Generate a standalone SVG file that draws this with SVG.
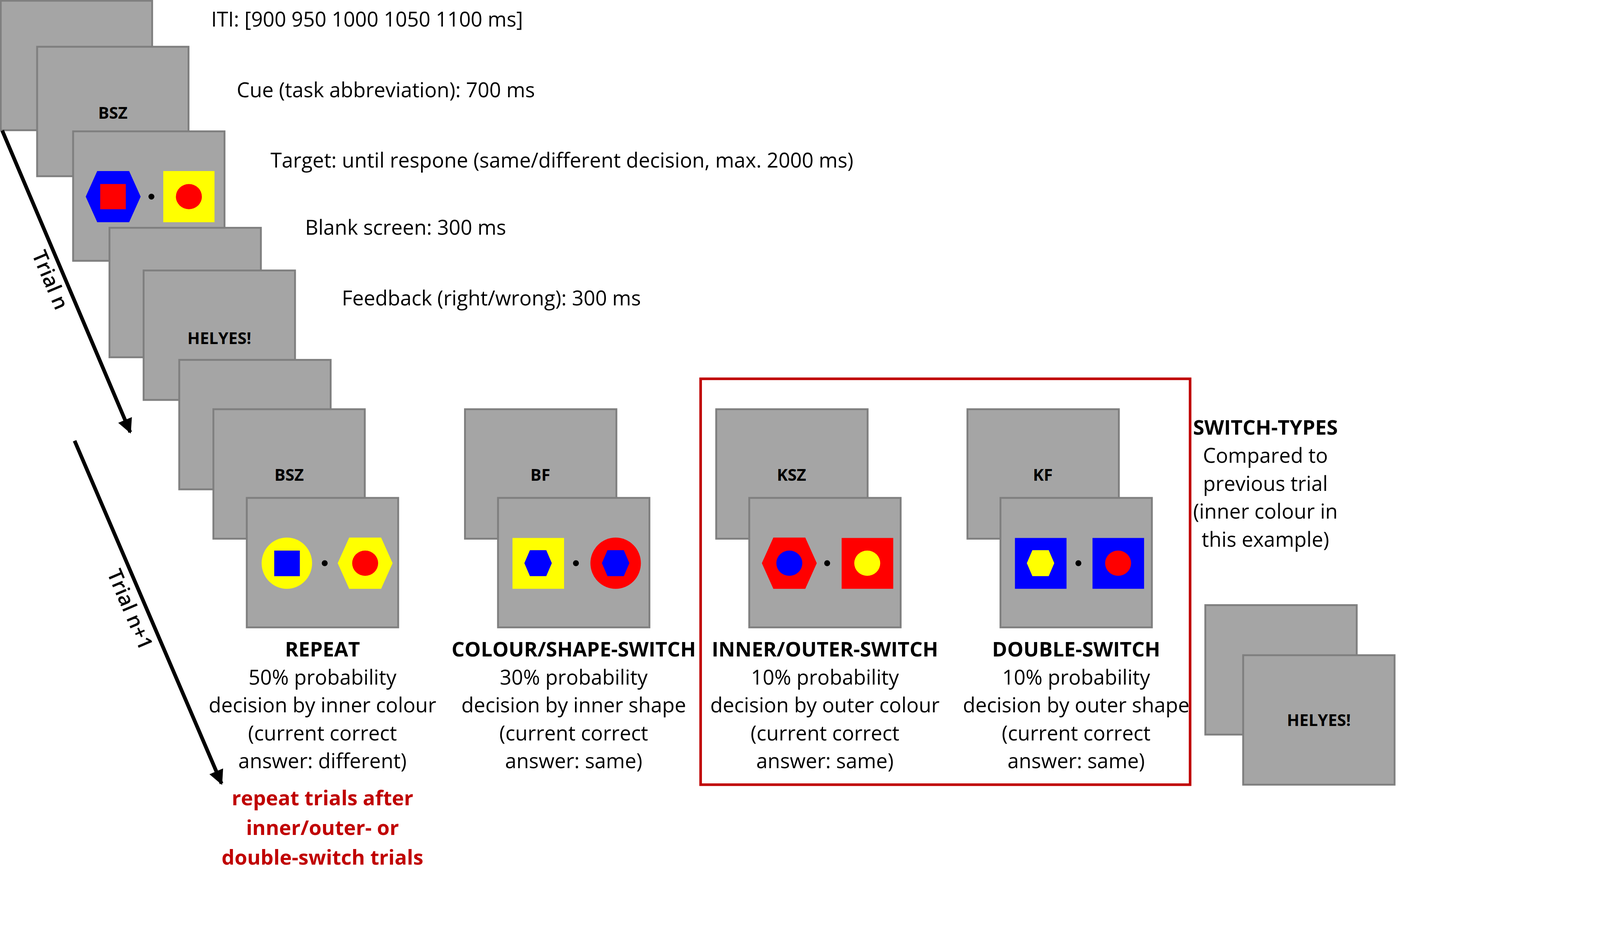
<svg xmlns="http://www.w3.org/2000/svg" width="4317" height="2430" viewBox="0 0 4317 2430">
<style>
.s{fill:#a5a5a5;stroke:#7f7f7f;stroke-width:5}
.t{font-family:"Open Sans","Liberation Sans",sans-serif;font-size:55px;fill:#000}
.b{font-weight:bold}
.c{text-anchor:middle}
.cue{font-family:"Open Sans","Liberation Sans",sans-serif;font-size:44px;font-weight:bold;text-anchor:middle}
.r{fill:#ff0000}.bl{fill:#0000ff}.y{fill:#ffff00}
</style>
<defs>
<marker id="ah" viewBox="0 0 10 10" refX="9" refY="5" markerWidth="4" markerHeight="4" orient="auto" markerUnits="strokeWidth"><path d="M0,0L10,5L0,10z" fill="#000"/></marker>
<polygon id="bighex" points="-74,0 -43,-69 43,-69 74,0 43,69 -43,69"/>
<polygon id="smhex" points="-37,0 -22,-35 22,-35 37,0 22,35 -22,35"/>
</defs>
<rect width="4317" height="2430" fill="#fff"/>
<g transform="scale(0.95)">
<g id="trial-n">
<rect class="s" x="2" y="2" width="408" height="349"/>
<rect class="s" x="100" y="126" width="408" height="349"/>
<text class="cue" x="304" y="320">BSZ</text>
<rect class="s" x="197" y="354" width="408" height="349"/>
<use href="#bighex" x="305" y="530" fill="#0000ff"/>
<rect class="r" x="270" y="496" width="69" height="68"/>
<circle cx="408" cy="530" r="8"/>
<rect class="y" x="440" y="461" width="138" height="138"/>
<ellipse class="r" cx="509" cy="530" rx="35" ry="34"/>
<rect class="s" x="295" y="614" width="408" height="349"/>
<rect class="s" x="387" y="729" width="408" height="349"/>
<text class="cue" x="591" y="927">HELYES!</text>
</g>
<g id="repeat">
<rect class="s" x="483" y="970" width="408" height="349"/>
<rect class="s" x="575" y="1103" width="408" height="349"/>
<text class="cue" x="779" y="1296">BSZ</text>
<rect class="s" x="665" y="1342" width="408" height="349"/>
<ellipse class="y" cx="773" cy="1518" rx="68" ry="69"/>
<rect class="bl" x="739" y="1484" width="69" height="69"/>
<circle cx="875" cy="1518" r="8"/>
<use href="#bighex" x="984" y="1518" fill="#ffff00"/>
<ellipse class="r" cx="984" cy="1518" rx="35" ry="34"/>
</g>
<g id="colour-shape">
<rect class="s" x="1253" y="1103" width="408" height="349"/>
<text class="cue" x="1456" y="1296">BF</text>
<rect class="s" x="1342" y="1342" width="408" height="349"/>
<rect class="y" x="1381" y="1450" width="139" height="137"/>
<use href="#smhex" x="1450" y="1518" fill="#0000ff"/>
<circle cx="1552" cy="1518" r="8"/>
<ellipse class="r" cx="1659" cy="1518" rx="68" ry="69"/>
<use href="#smhex" x="1659" y="1518" fill="#0000ff"/>
</g>
<g id="inner-outer">
<rect class="s" x="1930" y="1103" width="408" height="349"/>
<text class="cue" x="2133" y="1296">KSZ</text>
<rect class="s" x="2019" y="1342" width="408" height="349"/>
<use href="#bighex" x="2127" y="1518" fill="#ff0000"/>
<ellipse class="bl" cx="2127" cy="1518" rx="35" ry="34"/>
<circle cx="2229" cy="1518" r="8"/>
<rect class="r" x="2268" y="1450" width="139" height="137"/>
<ellipse class="y" cx="2337" cy="1518" rx="35" ry="34"/>
</g>
<g id="double">
<rect class="s" x="2607" y="1103" width="408" height="349"/>
<text class="cue" x="2810" y="1296">KF</text>
<rect class="s" x="2696" y="1342" width="408" height="349"/>
<rect class="bl" x="2735" y="1450" width="139" height="137"/>
<use href="#smhex" x="2804" y="1518" fill="#ffff00"/>
<circle cx="2906" cy="1518" r="8"/>
<rect class="bl" x="2944" y="1450" width="139" height="137"/>
<ellipse class="r" cx="3013" cy="1518" rx="35" ry="34"/>
</g>
<g id="feedback-right">
<rect class="s" x="3248" y="1631" width="408" height="349"/>
<rect class="s" x="3350" y="1766" width="408" height="349"/>
<text class="cue" x="3554" y="1957">HELYES!</text>
</g>
<g id="switch-box">
<rect x="1888" y="1021" width="1319" height="1094" fill="none" stroke="#c00000" stroke-width="7"/>
</g>
<g id="connectors">
<line x1="6" y1="352" x2="351" y2="1165" stroke="#000" stroke-width="10" marker-end="url(#ah)"/>
<line x1="201" y1="1188" x2="597" y2="2112" stroke="#000" stroke-width="10" marker-end="url(#ah)"/>
</g>
<g id="labels">
<text class="t" transform="translate(118,762) rotate(67)" text-anchor="middle" font-weight="600">Trial n</text>
<text class="t" transform="translate(333,1650) rotate(67)" text-anchor="middle" font-weight="600">Trial n+1</text>
<text class="t" x="569" y="72">ITI: [900 950 1000 1050 1100 ms]</text>
<text class="t" x="638" y="262">Cue (task abbreviation): 700 ms</text>
<text class="t" x="729" y="452">Target: until respone (same/different decision, max. 2000 ms)</text>
<text class="t" x="822" y="633">Blank screen: 300 ms</text>
<text class="t" x="921" y="823">Feedback (right/wrong): 300 ms</text>
<text class="t c"><tspan class="b" x="869" y="1769">REPEAT</tspan><tspan x="869" y="1845">50% probability</tspan><tspan x="869" y="1920">decision by inner colour</tspan><tspan x="869" y="1996">(current correct</tspan><tspan x="869" y="2071">answer: different)</tspan></text>
<text class="t c"><tspan class="b" x="1546" y="1769">COLOUR/SHAPE-SWITCH</tspan><tspan x="1546" y="1845">30% probability</tspan><tspan x="1546" y="1920">decision by inner shape</tspan><tspan x="1546" y="1996">(current correct</tspan><tspan x="1546" y="2071">answer: same)</tspan></text>
<text class="t c"><tspan class="b" x="2223" y="1769">INNER/OUTER-SWITCH</tspan><tspan x="2223" y="1845">10% probability</tspan><tspan x="2223" y="1920">decision by outer colour</tspan><tspan x="2223" y="1996">(current correct</tspan><tspan x="2223" y="2071">answer: same)</tspan></text>
<text class="t c"><tspan class="b" x="2900" y="1769">DOUBLE-SWITCH</tspan><tspan x="2900" y="1845">10% probability</tspan><tspan x="2900" y="1920">decision by outer shape</tspan><tspan x="2900" y="1996">(current correct</tspan><tspan x="2900" y="2071">answer: same)</tspan></text>
<text class="t c"><tspan class="b" x="3410" y="1172">SWITCH-TYPES</tspan><tspan x="3410" y="1247">Compared to</tspan><tspan x="3410" y="1323">previous trial</tspan><tspan x="3410" y="1398">(inner colour in</tspan><tspan x="3410" y="1474">this example)</tspan></text>
<text class="t c b" style="fill:#c00000"><tspan x="869" y="2171">repeat trials after</tspan><tspan x="869" y="2250">inner/outer- or</tspan><tspan x="869" y="2330">double-switch trials</tspan></text>
</g>
</g>
</svg>
